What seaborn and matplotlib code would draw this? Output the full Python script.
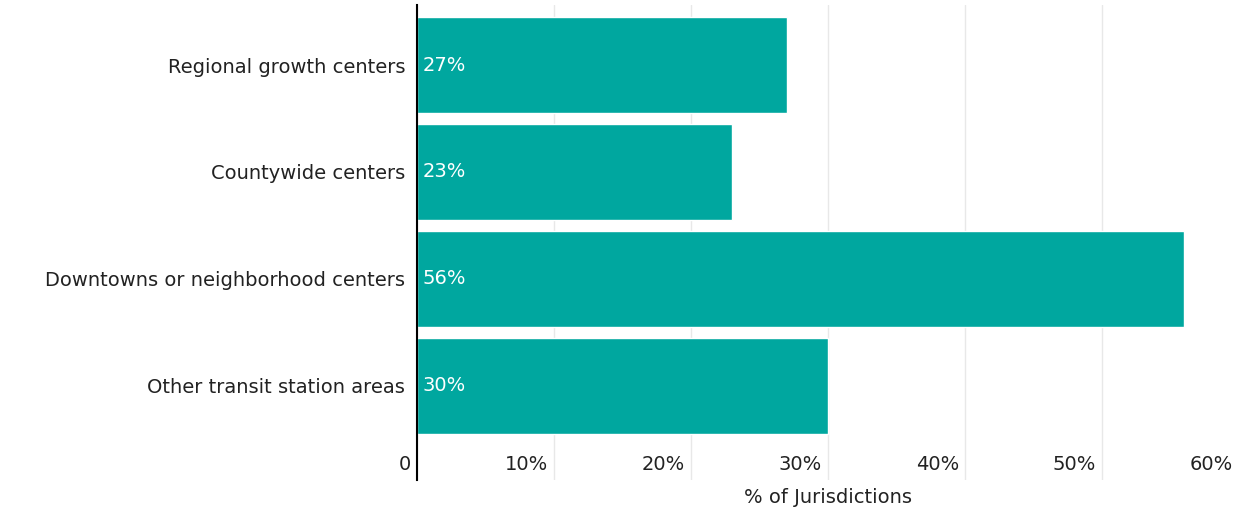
import matplotlib
matplotlib.use("Agg")
import matplotlib.pyplot as plt
import matplotlib.transforms as mtransforms
import pandas as pd
import seaborn as sns

categories = ["Regional growth centers", "Countywide centers",
              "Downtowns or neighborhood centers", "Other transit station areas"]
shares = [0.27, 0.23, 0.56, 0.30]
value_labels = ["27%", "23%", "56%", "30%"]
tick_values = [0, 0.1, 0.2, 0.3, 0.4, 0.5, 0.6]
tick_labels = ["0", "10%", "20%", "30%", "40%", "50%", "60%"]

df = pd.DataFrame({"category": categories, "share": shares})

sns.set_theme(style="white")
plt.rcParams["font.family"] = ["DejaVu Sans"]
txt = "#222222"
fs = 14

fig = plt.figure(figsize=(12.36, 5.12), dpi=100)
ax = fig.add_axes([417 / 1236, 1 - 480 / 512, (1239 - 417) / 1236, 475 / 512])

sns.barplot(data=df, y="category", x="share", color="#00A79F", saturation=1,
            width=0.9, ax=ax, orient="h")

ax.set_xlim(0, 0.6)
ax.set_ylim(3.879, -0.561)
ax.set_xticks(tick_values)
ax.set_xticklabels([])
ax.tick_params(axis="x", length=0)
ax.tick_params(axis="y", length=0, pad=8.5, labelsize=fs, labelcolor=txt)
ax.set_xlabel("")
ax.set_ylabel("")
ax.grid(axis="x", color="#e8e8e8", linewidth=1)
ax.set_axisbelow(True)
for s in ["top", "right", "bottom"]:
    ax.spines[s].set_visible(False)
ax.spines["left"].set_color("black")
ax.spines["left"].set_linewidth(1.5)
ax.spines["left"].set_zorder(5)

# tick labels sit just left of their gridline, inside the plot area
tr = ax.get_xaxis_transform() + mtransforms.ScaledTranslation(-6 / 100, 0, fig.dpi_scale_trans)
for v, lab in zip(tick_values, tick_labels):
    ax.text(v, 0.032, lab, transform=tr, ha="right", va="center", fontsize=fs, color=txt)

# value labels inside the bars
vt = ax.transData + mtransforms.ScaledTranslation(6 / 100, 0, fig.dpi_scale_trans)
for i, lab in enumerate(value_labels):
    ax.text(0, i, lab, transform=vt, ha="left", va="center", fontsize=fs, color="white")

ax.text(0.5, -0.036, "% of Jurisdictions", transform=ax.transAxes, ha="center",
        va="center", fontsize=fs, color=txt)

fig.savefig("out.png", dpi=100)
